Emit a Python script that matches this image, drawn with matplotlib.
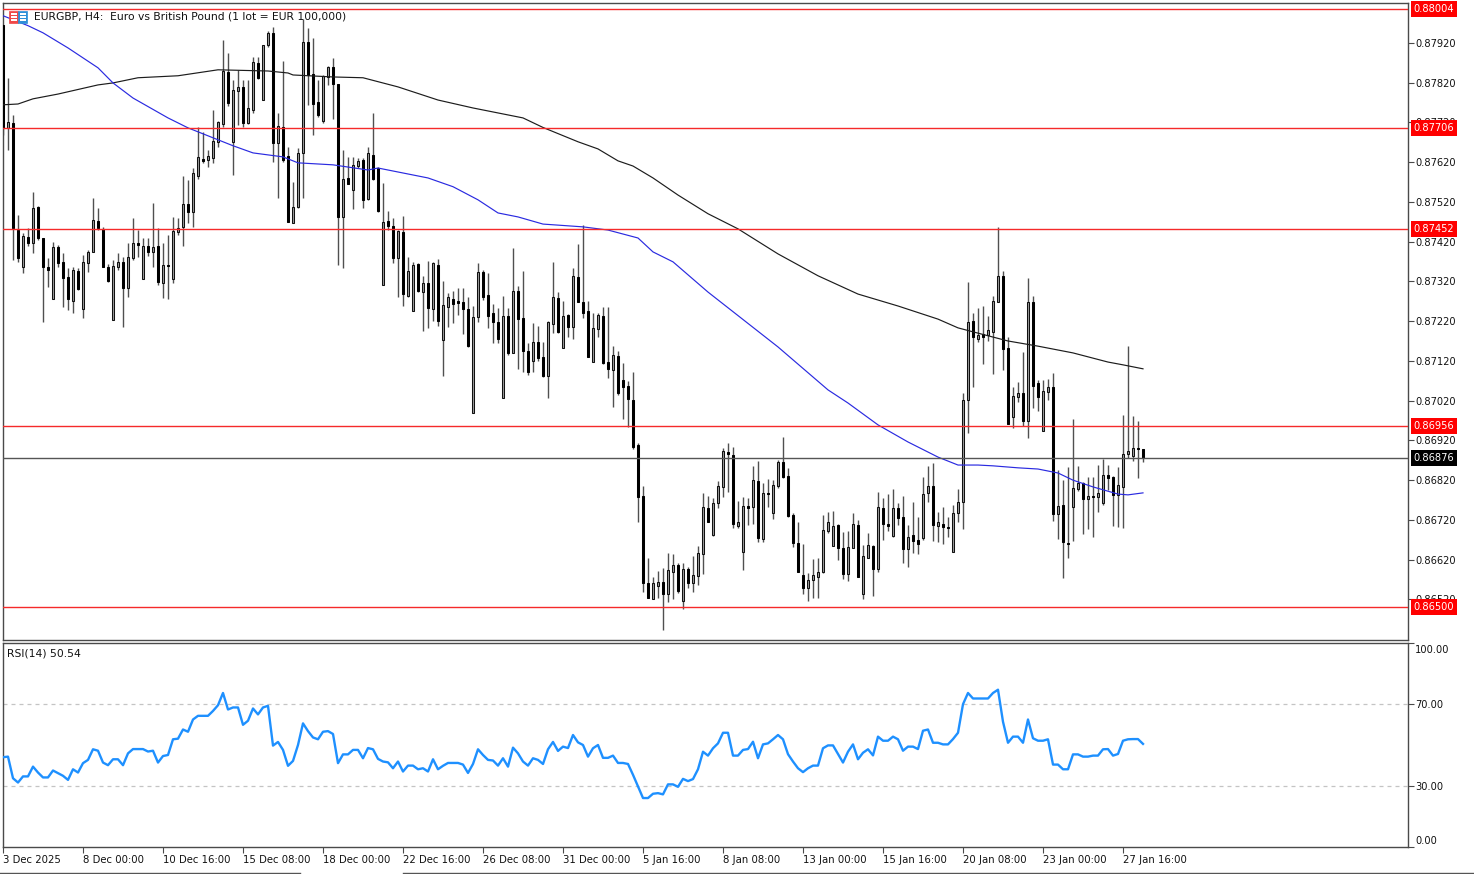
import matplotlib
matplotlib.use("Agg")
import matplotlib.pyplot as plt
import numpy as np
from matplotlib.patches import Rectangle
from matplotlib.transforms import ScaledTranslation

# prices in points (1e-5), one entry per H4 bar
opens = [
    87965, 87706, 87718, 87449, 87356, 87432, 87417, 87507, 87429, 87356,
    87276, 87407, 87369, 87331, 87271, 87346, 87251, 87366, 87394, 87472,
    87452, 87356, 87223, 87356, 87369, 87303, 87379, 87417, 87326, 87409,
    87394, 87409, 87316, 87361, 87326, 87444, 87457, 87515, 87495, 87585,
    87628, 87625, 87630, 87671, 87716, 87847, 87671, 87799, 87809, 87718,
    87751, 87870, 87776, 87915, 87945, 87668, 87708, 87636, 87467, 87507,
    87643, 87922, 87842, 87771, 87724, 87834, 87859, 87817, 87482, 87580,
    87550, 87610, 87625, 87527, 87638, 87605, 87311, 87472, 87459, 87379,
    87444, 87283, 87246, 87364, 87293, 87316, 87251, 87361, 87173, 87256,
    87276, 87271, 87268, 87251, 86989, 87230, 87344, 87286, 87240, 87218,
    87027, 87233, 87140, 87296, 87228, 87145, 87120, 87168, 87130, 87082,
    87213, 87278, 87152, 87235, 87205, 87331, 87268, 87246, 87117, 87200,
    87233, 87117, 87097, 87132, 87072, 87057, 87022, 86908, 86780, 86561,
    86521, 86554, 86564, 86533, 86589, 86606, 86516, 86596, 86561, 86579,
    86634, 86750, 86682, 86762, 86803, 86891, 86883, 86705, 86639, 86755,
    86752, 86818, 86672, 86788, 86737, 86805, 86866, 86830, 86732, 86662,
    86581, 86549, 86569, 86576, 86589, 86692, 86654, 86707, 86649, 86584,
    86649, 86707, 86533, 86624, 86654, 86596, 86750, 86710, 86679, 86750,
    86727, 86647, 86682, 86669, 86674, 86788, 86805, 86705, 86710, 86702,
    86639, 86737, 86765, 87022, 87220, 87175, 87188, 87185, 87193, 87268,
    87334, 87152, 86979, 87029, 87039, 86969, 87268, 87064, 86944, 87042,
    87054, 86735, 86757, 86662, 86752, 86798, 86813, 86773, 86780, 86778,
    86762, 86833, 86828, 86783, 86803, 86886, 86881, 86901, 86898,
]
highs = [
    87965, 87832, 87739, 87487, 87442, 87454, 87545, 87510, 87429, 87379,
    87419, 87412, 87391, 87354, 87356, 87354, 87386, 87399, 87530, 87505,
    87457, 87364, 87374, 87391, 87381, 87417, 87479, 87449, 87429, 87429,
    87517, 87454, 87417, 87437, 87482, 87479, 87585, 87575, 87605, 87708,
    87696, 87651, 87751, 87724, 87927, 87895, 87827, 87852, 87827, 87827,
    87885, 87885, 87915, 87950, 87960, 87744, 87875, 87658, 87570, 87656,
    87980, 87958, 87932, 87827, 87839, 87862, 87882, 87817, 87651, 87633,
    87633, 87630, 87630, 87658, 87744, 87608, 87568, 87497, 87479, 87449,
    87485, 87381, 87369, 87366, 87334, 87371, 87369, 87376, 87321, 87291,
    87296, 87303, 87303, 87281, 87258, 87366, 87349, 87341, 87263, 87253,
    87283, 87253, 87404, 87308, 87346, 87165, 87215, 87208, 87168, 87220,
    87369, 87293, 87271, 87238, 87354, 87414, 87462, 87271, 87240, 87240,
    87256, 87256, 87157, 87145, 87115, 87069, 87092, 86913, 86805, 86624,
    86576, 86591, 86599, 86637, 86634, 86611, 86611, 86601, 86629, 86654,
    86788, 86780, 86775, 86818, 86901, 86913, 86903, 86767, 86778, 86775,
    86856, 86868, 86813, 86823, 86820, 86871, 86929, 86850, 86737, 86715,
    86659, 86586, 86622, 86624, 86732, 86740, 86742, 86710, 86690, 86692,
    86737, 86720, 86657, 86687, 86657, 86790, 86775, 86785, 86798, 86762,
    86780, 86707, 86765, 86727, 86828, 86856, 86863, 86740, 86752, 86727,
    86757, 86798, 87039, 87318, 87240, 87253, 87258, 87233, 87283, 87457,
    87346, 87180, 87054, 87067, 87142, 87329, 87283, 87072, 87072, 87074,
    87090, 86845, 86820, 86853, 86974, 86856, 86815, 86828, 86828, 86858,
    86873, 86858, 86830, 86853, 86984, 87157, 86981, 86969, 86898,
]
lows = [
    87688, 87651, 87374, 87369, 87341, 87409, 87391, 87424, 87218, 87306,
    87276, 87356, 87256, 87248, 87240, 87298, 87228, 87344, 87394, 87449,
    87356, 87318, 87223, 87349, 87205, 87281, 87374, 87381, 87326, 87384,
    87356, 87311, 87278, 87276, 87316, 87437, 87409, 87467, 87457, 87578,
    87618, 87608, 87618, 87658, 87708, 87761, 87588, 87714, 87708, 87716,
    87744, 87829, 87776, 87910, 87620, 87530, 87620, 87469, 87467, 87505,
    87530, 87764, 87688, 87734, 87718, 87814, 87729, 87361, 87354, 87565,
    87502, 87605, 87505, 87525, 87575, 87495, 87311, 87449, 87366, 87281,
    87258, 87281, 87246, 87293, 87195, 87203, 87220, 87208, 87082, 87205,
    87215, 87235, 87188, 87155, 86989, 87218, 87273, 87203, 87165, 87165,
    87027, 87135, 87140, 87100, 87092, 87085, 87092, 87120, 87079, 87027,
    87190, 87190, 87152, 87180, 87175, 87268, 87228, 87130, 87117, 87180,
    87112, 87077, 87004, 87034, 86974, 86954, 86898, 86715, 86539, 86523,
    86521, 86523, 86443, 86513, 86521, 86536, 86496, 86549, 86539, 86556,
    86584, 86715, 86679, 86750, 86778, 86790, 86700, 86700, 86594, 86707,
    86710, 86664, 86664, 86752, 86722, 86800, 86825, 86727, 86652, 86589,
    86533, 86516, 86523, 86523, 86586, 86687, 86654, 86619, 86571, 86566,
    86649, 86576, 86521, 86624, 86528, 86589, 86669, 86692, 86677, 86707,
    86611, 86601, 86637, 86634, 86669, 86765, 86667, 86664, 86659, 86677,
    86639, 86715, 86697, 86939, 87054, 87168, 87112, 87170, 87087, 87268,
    87097, 86961, 86951, 87017, 86956, 86926, 87002, 86994, 86944, 87022,
    86717, 86672, 86574, 86624, 86667, 86793, 86684, 86697, 86677, 86740,
    86757, 86795, 86705, 86702, 86700, 86876, 86868, 86825, 86865,
]
closes = [
    87706, 87721, 87454, 87379, 87434, 87417, 87505, 87429, 87356, 87349,
    87407, 87366, 87329, 87276, 87349, 87301, 87369, 87394, 87474, 87454,
    87356, 87321, 87359, 87369, 87303, 87381, 87417, 87412, 87409, 87394,
    87407, 87318, 87361, 87359, 87447, 87454, 87515, 87495, 87593, 87633,
    87623, 87636, 87673, 87721, 87849, 87769, 87802, 87809, 87718, 87756,
    87872, 87832, 87915, 87945, 87668, 87711, 87625, 87469, 87507, 87643,
    87922, 87839, 87766, 87739, 87837, 87859, 87817, 87482, 87578, 87565,
    87613, 87623, 87525, 87643, 87578, 87497, 87469, 87459, 87379, 87447,
    87288, 87346, 87361, 87296, 87316, 87253, 87366, 87220, 87261, 87281,
    87263, 87266, 87251, 87157, 87230, 87344, 87281, 87233, 87218, 87175,
    87233, 87140, 87296, 87225, 87145, 87092, 87168, 87127, 87082, 87218,
    87281, 87193, 87233, 87205, 87334, 87268, 87240, 87130, 87203, 87235,
    87115, 87100, 87135, 87039, 87054, 87024, 86903, 86778, 86561, 86523,
    86561, 86564, 86533, 86594, 86606, 86541, 86596, 86561, 86581, 86637,
    86752, 86715, 86762, 86805, 86893, 86886, 86710, 86715, 86755, 86750,
    86820, 86674, 86788, 86785, 86808, 86866, 86828, 86730, 86662, 86589,
    86549, 86569, 86581, 86589, 86695, 86715, 86705, 86649, 86584, 86652,
    86710, 86576, 86629, 86657, 86596, 86752, 86710, 86705, 86750, 86725,
    86647, 86677, 86667, 86659, 86785, 86805, 86707, 86715, 86702, 86700,
    86737, 86765, 87022, 87218, 87180, 87185, 87180, 87198, 87271, 87334,
    87150, 86961, 87032, 87039, 86969, 87268, 87057, 87029, 87044, 87054,
    86735, 86755, 86664, 86659, 86800, 86813, 86773, 86780, 86778, 86788,
    86833, 86825, 86783, 86808, 86886, 86893, 86901, 86898, 86876,
]
rsi_values = [
    44.0, 44.3, 33.7, 31.6, 34.6, 34.6, 39.4, 36.5, 34.1, 34.1,
    37.5, 36.2, 34.9, 32.9, 38.1, 36.5, 41.1, 42.7, 47.9, 47.2,
    41.4, 40.1, 43.0, 43.0, 40.1, 45.9, 48.0, 48.0, 48.0, 46.8,
    47.2, 41.4, 44.6, 45.1, 52.8, 53.1, 57.6, 56.5, 62.5, 64.3,
    64.3, 64.3, 66.7, 69.5, 75.5, 67.4, 68.4, 68.4, 59.9, 61.9,
    67.9, 65.0, 68.4, 69.2, 49.7, 51.5, 47.6, 39.8, 42.2, 50.0,
    60.6, 56.8, 53.7, 52.8, 56.5, 56.8, 55.4, 41.1, 45.4, 45.4,
    47.6, 47.6, 43.5, 48.5, 47.9, 43.2, 41.9, 41.5, 38.6, 41.9,
    37.0, 39.9, 39.9, 38.1, 38.6, 37.0, 43.0, 38.1, 39.8, 41.2,
    41.2, 41.2, 40.4, 36.3, 40.7, 47.9, 45.1, 42.7, 42.4, 39.9,
    43.5, 39.4, 48.7, 45.9, 41.9, 39.9, 43.5, 42.7, 40.7, 47.9,
    51.5, 47.1, 49.2, 48.5, 54.9, 51.3, 50.0, 44.3, 48.4, 50.0,
    43.7, 43.7, 44.8, 41.2, 41.2, 40.7, 35.4, 29.7, 24.0, 24.0,
    26.1, 26.4, 25.8, 30.7, 30.7, 29.5, 33.4, 32.3, 33.3, 38.1,
    46.7, 44.8, 48.4, 50.8, 56.0, 56.0, 44.8, 44.8, 47.6, 48.0,
    51.6, 43.5, 50.3, 50.8, 52.8, 54.9, 52.8, 45.5, 41.9, 38.6,
    36.7, 38.6, 39.9, 39.9, 48.4, 49.8, 49.8, 45.6, 41.4, 46.7,
    50.3, 43.0, 46.2, 47.9, 44.9, 54.1, 52.1, 52.1, 54.1, 52.8,
    47.2, 49.2, 49.2, 48.0, 57.0, 57.6, 51.1, 51.1, 50.3, 50.3,
    52.9, 56.0, 70.0, 75.5, 72.8, 72.8, 72.8, 72.8, 75.5, 77.1,
    61.4, 51.1, 54.1, 54.1, 51.1, 62.5, 53.3, 52.1, 52.1, 52.8,
    40.4, 40.4, 38.1, 38.1, 45.4, 45.4, 44.3, 44.3, 44.8, 44.8,
    47.9, 48.0, 44.8, 45.6, 52.1, 52.8, 52.9, 52.9, 50.54,
]

# moving averages, read at the bars where the line visibly bends
slow_ma_bars = [0, 3, 6, 11, 19, 22, 27, 35, 43, 53, 57, 58, 66, 72, 79, 87, 94, 104, 108,
                115, 119, 123, 126, 130, 135, 141, 147, 155, 163, 171, 179, 187, 191, 194,
                201, 207, 214, 221, 224, 228]
slow_ma = [87764, 87766, 87779, 87791, 87814, 87819, 87832, 87837, 87852, 87849, 87844,
           87839, 87834, 87832, 87809, 87776, 87756, 87731, 87707, 87671, 87653, 87623,
           87610, 87580, 87537, 87490, 87452, 87389, 87334, 87288, 87258, 87225, 87203,
           87193, 87170, 87157, 87140, 87117, 87110, 87100]
fast_ma_bars = [0, 5, 8, 13, 19, 22, 26, 33, 37, 42, 46, 50, 56, 59, 66, 73, 75, 85, 90, 95,
                99, 103, 108, 116, 121, 127, 130, 134, 141, 155, 165, 169, 175, 181, 187,
                191, 195, 198, 203, 207, 211, 214, 218, 223, 225, 228]
fast_ma = [87988, 87963, 87945, 87907, 87857, 87819, 87781, 87731, 87706, 87681, 87661,
           87643, 87633, 87618, 87613, 87600, 87605, 87580, 87558, 87525, 87492, 87482,
           87464, 87457, 87449, 87429, 87394, 87369, 87293, 87155, 87047, 87014, 86959,
           86916, 86878, 86858, 86858, 86856, 86851, 86848, 86838, 86820, 86803, 86785,
           86783, 86788]

red_levels = [0.88004, 0.87706, 0.87452, 0.86956, 0.86500]
last_price = 0.86876

price_ticks = [0.87920, 0.87820, 0.87720, 0.87620, 0.87520, 0.87420, 0.87320, 0.87220,
               0.87120, 0.87020, 0.86920, 0.86820, 0.86720, 0.86620, 0.86520]
rsi_ticks = [100, 70, 30, 0]
rsi_guides = [70, 30]
date_bars = list(range(0, 229, 16))
date_labels = ["3 Dec 2025", "8 Dec 00:00", "10 Dec 16:00", "15 Dec 08:00", "18 Dec 00:00",
               "22 Dec 16:00", "26 Dec 08:00", "31 Dec 00:00", "5 Jan 16:00", "8 Jan 08:00",
               "13 Jan 00:00", "15 Jan 16:00", "20 Jan 08:00", "23 Jan 00:00", "27 Jan 16:00"]

W, H = 1474, 874
FRAME = "#4a4a4a"
TEXT = "#111111"
plt.rcParams["font.family"] = ["DejaVu Sans"]
plt.rcParams["font.size"] = 7.1


def pane(top, bottom):
    # pane box given in image pixels
    left, right = 3, 1408
    return fig.add_axes([left / W, 1 - bottom / H, (right - left) / W, (bottom - top) / H])


fig = plt.figure(figsize=(W / 100, H / 100), dpi=100, facecolor="white")
ax = pane(3, 640)
ax_rsi = pane(643, 847)

o = np.array(opens) / 1e5
h = np.array(highs) / 1e5
l = np.array(lows) / 1e5
c = np.array(closes) / 1e5
bars = np.arange(len(o))
up = c >= o

ax.vlines(bars, l, h, color="#505050", linewidth=1.0, zorder=2)
ax.bar(bars[up], (c - o)[up], bottom=o[up], width=0.56, color="#9a9a9a",
       edgecolor="#111111", linewidth=0.75, zorder=3)
ax.bar(bars[~up], (c - o)[~up], bottom=o[~up], width=0.56, color="black",
       edgecolor="black", linewidth=0.75, zorder=3)

ax.plot(slow_ma_bars, np.array(slow_ma) / 1e5, color="#1c1c1c", linewidth=0.85, zorder=4)
ax.plot(fast_ma_bars, np.array(fast_ma) / 1e5, color="#2a2ae0", linewidth=0.85, zorder=4)

for level in red_levels:
    ax.axhline(level, color="#f52a2a", linewidth=1.0, zorder=5)
ax.axhline(last_price, color="#555555", linewidth=1.0, zorder=5)

ax.set_xlim(0, 281)
ax.set_ylim(0.86418, 0.88020)
ax.set_xticks([])
ax.yaxis.tick_right()
ax.set_yticks(price_ticks, [f"{t:.5f}" for t in price_ticks])
ax.tick_params(axis="y", length=4, width=0.8, pad=1, color=FRAME, labelcolor=TEXT)

# price tags on the right edge, they cover the tick labels underneath
for level in red_levels + [last_price]:
    face = "black" if level == last_price else "#ff0000"
    ax.annotate(f"{level:.5f}", xy=(1.0, level), xycoords=("axes fraction", "data"),
                xytext=(4.2, 0), textcoords="offset points", ha="left", va="center",
                color="white", zorder=10, annotation_clip=False,
                bbox=dict(boxstyle="square,pad=0.3", fc=face, ec="none"))

ax.text(34 / W, 1 - 16.5 / H, "EURGBP, H4:  Euro vs British Pound (1 lot = EUR 100,000)",
        transform=fig.transFigure, va="center", ha="left", color=TEXT, fontsize=7.75, zorder=8)

# little chart window icon next to the symbol name
for x0, w, col in [(9, 9, "#f04848"), (18, 9, "#2f8fd8")]:
    fig.add_artist(Rectangle((x0 / W, 1 - 23 / H), w / W, 12 / H, transform=fig.transFigure,
                             fc=col, ec=col, linewidth=0.5))
    for yy in (13.5, 16.5, 19.5):
        fig.add_artist(Rectangle(((x0 + 1.5) / W, 1 - (yy + 1) / H), (w - 3) / W, 1.2 / H,
                                 transform=fig.transFigure, fc="white", ec="none"))

ax_rsi.plot(bars, rsi_values, color="#1e90ff", linewidth=1.7, zorder=3,
            solid_joinstyle="round")
for guide in rsi_guides:
    ax_rsi.axhline(guide, color="#c4c4c4", linewidth=0.9, dashes=(3.2, 3.2), zorder=1)

ax_rsi.set_xlim(0, 281)
ax_rsi.set_ylim(0, 100)
ax_rsi.yaxis.tick_right()
ax_rsi.set_yticks(rsi_ticks, [f"{t:.2f}" for t in rsi_ticks])
ax_rsi.tick_params(axis="y", length=4, width=0.8, pad=1, color=FRAME, labelcolor=TEXT)
# end labels sit inside the pane: 100.00 lower, 0.00 higher
rsi_labels = ax_rsi.get_yticklabels()
rsi_labels[0].set_transform(rsi_labels[0].get_transform() + ScaledTranslation(0, -4.4 / 72, fig.dpi_scale_trans))
rsi_labels[-1].set_transform(rsi_labels[-1].get_transform() + ScaledTranslation(0, 5 / 72, fig.dpi_scale_trans))

ax_rsi.set_xticks(date_bars, date_labels, ha="left", fontsize=7.3)
ax_rsi.tick_params(axis="x", length=4, width=0.8, pad=2, color=FRAME, labelcolor=TEXT)
ax_rsi.text(7 / W, 1 - 654 / H, "RSI(14) 50.54", transform=fig.transFigure, va="center",
            ha="left", color=TEXT, fontsize=7.75)

for a in (ax, ax_rsi):
    for spine in a.spines.values():
        spine.set_color(FRAME)
        spine.set_linewidth(1.0)

# window border pieces along the bottom edge of the screenshot
for x0, x1 in [(0, 300), (403, 1474)]:
    fig.add_artist(plt.Line2D([x0 / W, x1 / W], [1 - 873 / H, 1 - 873 / H],
                              color="#555555", linewidth=1.0))

fig.savefig("out.png", dpi=100)
